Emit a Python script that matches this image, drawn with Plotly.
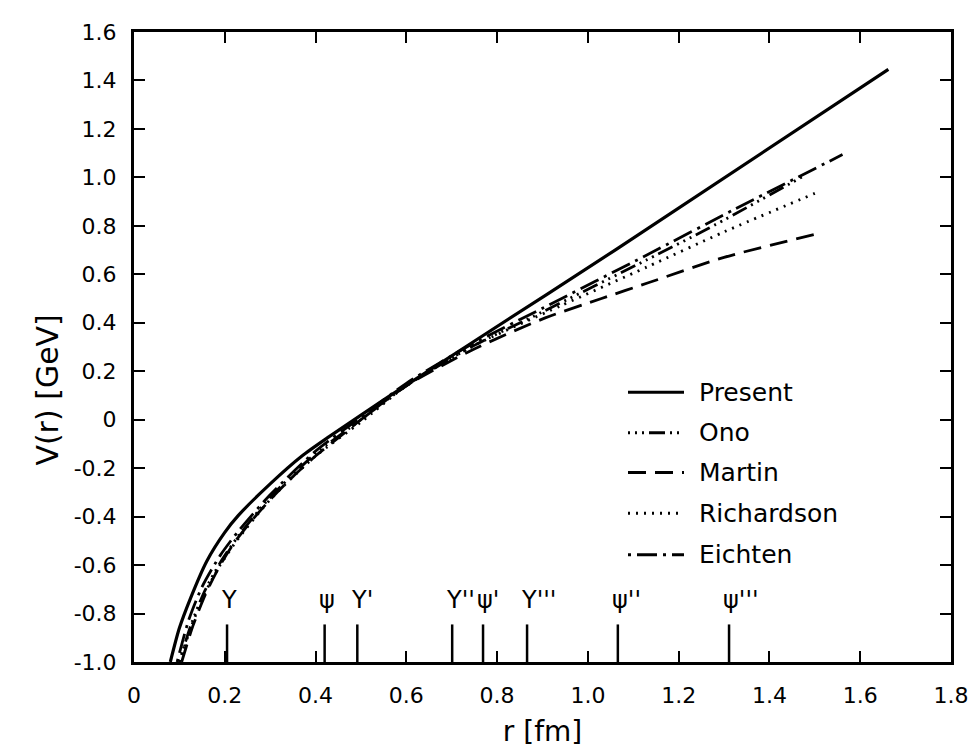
import plotly.graph_objects as go

# ---- data ----
series_names = ["Present", "Ono", "Martin", "Richardson", "Eichten"]

r_present = [0.08, 0.10, 0.126, 0.16, 0.20, 0.23, 0.30, 0.37, 0.43, 0.56, 0.73, 1.06, 1.662]
v_present = [-1.0, -0.86, -0.73, -0.585, -0.465, -0.395, -0.265, -0.15, -0.07, 0.094, 0.30, 0.70, 1.446]

r_ono = [0.10, 0.125, 0.155, 0.19, 0.23, 0.30, 0.40, 0.50, 0.60, 0.743, 0.90, 1.13, 1.266, 1.48]
v_ono = [-1.0, -0.85, -0.71, -0.59, -0.48, -0.32, -0.14, 0.0, 0.14, 0.30, 0.445, 0.66, 0.79, 1.01]

r_martin = [0.105, 0.13, 0.16, 0.19, 0.222, 0.26, 0.30, 0.35, 0.40, 0.45, 0.50, 0.60, 0.743, 0.906, 1.03, 1.133, 1.30, 1.50]
v_martin = [-1.0, -0.85, -0.71, -0.60, -0.505, -0.415, -0.33, -0.235, -0.15, -0.075, 0.0, 0.14, 0.286, 0.42, 0.50, 0.565, 0.67, 0.765]

r_richardson = [0.10, 0.125, 0.155, 0.19, 0.23, 0.30, 0.40, 0.50, 0.60, 0.743, 0.94, 1.13, 1.30, 1.50]
v_richardson = [-1.0, -0.86, -0.72, -0.60, -0.49, -0.33, -0.15, -0.01, 0.14, 0.30, 0.47, 0.63, 0.775, 0.934]

r_eichten = [0.095, 0.12, 0.15, 0.19, 0.23, 0.30, 0.40, 0.50, 0.60, 0.743, 0.90, 1.13, 1.325, 1.561]
v_eichten = [-1.0, -0.83, -0.69, -0.56, -0.46, -0.31, -0.13, 0.01, 0.15, 0.31, 0.46, 0.68, 0.87, 1.094]

state_labels = ["Υ", "ψ", "Υ'", "Υ''", "ψ'", "Υ'''", "ψ''", "ψ'''"]
state_r = [0.205, 0.42, 0.492, 0.701, 0.769, 0.866, 1.066, 1.311]

x_ticks = [0, 0.2, 0.4, 0.6, 0.8, 1.0, 1.2, 1.4, 1.6, 1.8]
x_ticktext = ["0", "0.2", "0.4", "0.6", "0.8", "1.0", "1.2", "1.4", "1.6", "1.8"]
y_ticks = [1.6, 1.4, 1.2, 1.0, 0.8, 0.6, 0.4, 0.2, 0, -0.2, -0.4, -0.6, -0.8, -1.0]
y_ticktext = ["1.6", "1.4", "1.2", "1.0", "0.8", "0.6", "0.4", "0.2", "0",
              "-0.2", "-0.4", "-0.6", "-0.8", "-1.0"]

# ---- styles ----
dashes = {
    "Present": "solid",
    "Ono": "2px,5px,2px,5px,2px,5px,16px,5px",
    "Martin": "18px,9px",
    "Richardson": "2px,6px",
    "Eichten": "3px,6px,20px,6px",
}
data = {
    "Present": (r_present, v_present),
    "Ono": (r_ono, v_ono),
    "Martin": (r_martin, v_martin),
    "Richardson": (r_richardson, v_richardson),
    "Eichten": (r_eichten, v_eichten),
}

W, H = 977, 746
ML, MR, MT, MB = 126, 34, 19, 92
PW, PH = W - ML - MR, H - MT - MB
FONT = "DejaVu Sans"


def px2paper_x(px):
    return (px - ML) / PW


def px2paper_y(py):
    return (H - MB - py) / PH


fig = go.Figure()
for name in series_names:
    rr, vv = data[name]
    fig.add_trace(go.Scatter(
        x=rr, y=vv, mode="lines", name=name, showlegend=False,
        line=dict(color="black", width=3.2 if name == "Present" else 2.8,
                  dash=dashes[name], shape="spline", smoothing=0.7),
        hoverinfo="x+y+name",
    ))

shapes = []
annotations = []

# state markers along the bottom axis
for lab, rv in zip(state_labels, state_r):
    shapes.append(dict(type="line", xref="x", yref="y", x0=rv, x1=rv,
                       y0=-1.0, y1=-0.845, line=dict(color="black", width=2.5)))
    annotations.append(dict(xref="x", yref="y", x=rv, y=-0.745, text=lab,
                            showarrow=False, xanchor="left", yanchor="middle",
                            xshift=-8, font=dict(family=FONT, size=24, color="black")))

# hand-drawn style legend
legend_rows = [382, 423, 463, 504, 546]
for name, py in zip(series_names, legend_rows):
    shapes.append(dict(type="line", xref="paper", yref="paper",
                       x0=px2paper_x(620), x1=px2paper_x(676),
                       y0=px2paper_y(py), y1=px2paper_y(py),
                       line=dict(color="black", width=3, dash=dashes[name])))
    annotations.append(dict(xref="paper", yref="paper", x=px2paper_x(689),
                            y=px2paper_y(py), text=name, showarrow=False,
                            xanchor="left", yanchor="middle",
                            font=dict(family=FONT, size=25, color="black")))

# y-axis title
annotations.append(dict(xref="paper", yref="y", x=px2paper_x(40), y=0.12,
                        text="V(r) [GeV]", showarrow=False, textangle=-90,
                        xanchor="center", yanchor="middle",
                        font=dict(family=FONT, size=30, color="black")))

axis_common = dict(
    showgrid=False, zeroline=False, showline=True, linecolor="black",
    linewidth=3, mirror="ticks", ticks="inside", ticklen=11, tickwidth=2,
    tickcolor="black", tickfont=dict(family=FONT, size=22, color="black"),
)

fig.update_layout(
    width=W, height=H,
    margin=dict(l=ML, r=MR, t=MT, b=MB),
    paper_bgcolor="white", plot_bgcolor="white",
    shapes=shapes, annotations=annotations,
    showlegend=False,
    xaxis=dict(range=[0, 1.8], tickvals=x_ticks, ticktext=x_ticktext,
               ticklabelstandoff=12,
               title=dict(text="r [fm]", standoff=14,
                          font=dict(family=FONT, size=28, color="black")),
               **axis_common),
    yaxis=dict(range=[-1.0, 1.6], tickvals=y_ticks, ticktext=y_ticktext,
               ticklabelstandoff=10, **axis_common),
)

fig.write_html("out.html")
